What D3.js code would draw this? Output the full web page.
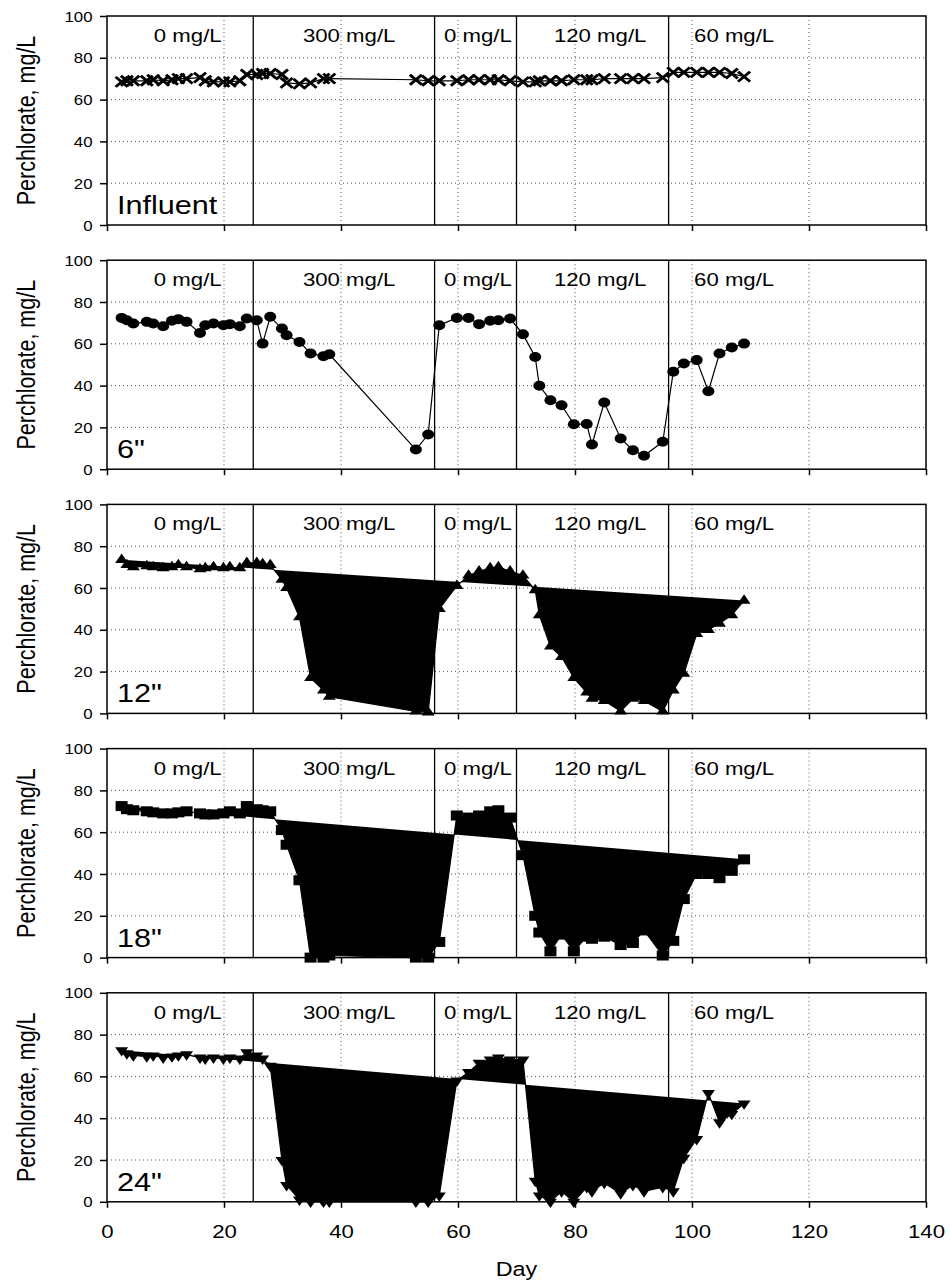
<!DOCTYPE html>
<html><head><meta charset="utf-8">
<script src="https://cdn.jsdelivr.net/npm/d3@7"></script>
<style>body{margin:0;background:#fff} text{font-family:"Liberation Sans",Arial,sans-serif;fill:#000}</style>
</head><body><svg id="c" width="950" height="1286"></svg>
<script>
// ---- data ----
const days = [2.5,3.4,4.5,6.8,7.9,9.6,11.1,12.2,13.6,15.9,16.8,18.2,19.9,21.0,22.7,23.9,25.6,26.6,27.9,29.9,30.7,32.9,34.8,37.0,38.0,52.8,54.9,56.8,59.8,61.8,63.6,65.5,66.9,68.9,71.1,73.2,73.9,75.8,77.7,79.8,82.0,82.9,85.0,87.8,89.9,91.8,95.0,96.8,98.6,100.8,102.8,104.7,106.8,108.9];
const influent = [68.5,69,69,69,69.5,69,69.5,70,70,70.5,69,68.5,68.5,68.5,69,72,72,72.5,72.5,72,68,67.5,68,70,70,69.5,69,69,69,69.5,69.5,69.5,69.5,69,68.5,68.5,69,69,69,69.5,69.5,69.5,70,70,70,70,70.5,73,73,73,73,73,72.5,71];
const depth6 = [72.4,71.3,69.7,70.5,69.7,68.4,71,71.8,70.5,65.2,68.9,69.7,68.9,69.4,68.4,72.1,71.3,60.1,72.9,67.3,64.1,60.9,55.4,54.1,55,9.4,16.6,68.9,72.4,72.4,69.4,71,71.3,72.1,64.6,53.7,39.9,33,30.6,21.5,21.6,11.8,31.9,14.7,9.1,6.4,13.1,46.6,50.6,52.2,37.3,55.4,58.2,60.1];
const depth12 = [73.5,71,70,70.5,70,69.5,70,71,70,69,69.5,70,69.5,70,69.5,72,72,71.5,71,64,60,46,17,11,8,1,0.5,50,61,66,68,69.5,70,68,66,59,47,32,27,17,10,7,6,1,7,6,1,11,19,38,40,43,47,54];
const depth18 = [72.5,71,70.5,70,69.5,69,69,69.5,70,69,68.5,68.5,69,70,69,72.5,71,70.5,70,61,54,37,0,0,1,0,0,7.5,68,67,68,70,70.5,67,49,20,12,3,11,3,10,9,10,6,7,13,1,8,28,40,40,38,41.5,47];
const depth24 = [72.5,71,70,69.5,70,69,69.5,70,70.5,69,68.5,69,68.5,69,68.5,71.5,70,68.5,65,20,8,1,0,0,0,0,0,3,58,62,66.5,68,69,68,68,10,3,0,5,0,7,5,9,4,8,5,7,5,21,30,52,38,42,47];
const panelNames = ["Influent", "6\"", "12\"", "18\"", "24\""];
const markerTypes = ["x", "circle", "triUp", "square", "triDown"];
const filledLine = [false, false, true, true, true];
const phaseDays = [25, 56, 70, 96];
const doseLabels = ["0 mg/L", "300 mg/L", "0 mg/L", "120 mg/L", "60 mg/L"];
const doseLabelDays = [13.8, 41.4, 63.4, 84.3, 107.2];
const xTicks = [0, 20, 40, 60, 80, 100, 120, 140];
const yTicks = [0, 20, 40, 60, 80, 100];
const xGrid = [20, 40, 60, 80, 100, 120];
const yGrid = [20, 40, 60, 80];
const series = [influent, depth6, depth12, depth18, depth24];

// ---- layout ----
const svg = d3.select("#c");
const left = 107, right = 926, panelH = 209, firstTop = 16, step = 244.2;
const SX = 1.2; // horizontal stretch of text in the reference
const x = d3.scaleLinear().domain([0, 140]).range([left, right]);

function stretchedText(g, tx, ty, str, size, anchor, extra) {
  return g.append("text")
    .attr("transform", `translate(${tx},${ty}) scale(${SX},1)` + (extra || ""))
    .attr("text-anchor", anchor)
    .style("font-size", size + "px")
    .text(str);
}

const markerPaths = {
  x: "M-5,-5L5,5M5,-5L-5,5",
  triUp: "M0,-6.3L5.4,3.1L-5.4,3.1Z",
  triDown: "M0,6.3L5.4,-3.1L-5.4,-3.1Z",
  square: "M-5,-5H5V5H-5Z"
};

series.forEach((vals, i) => {
  const top = firstTop + i * step;
  const bottom = top + panelH;
  const y = d3.scaleLinear().domain([0, 100]).range([bottom, top]);
  const g = svg.append("g");

  // grid
  g.selectAll(".hg").data(yGrid).join("line")
    .attr("x1", left).attr("x2", right)
    .attr("y1", d => y(d)).attr("y2", d => y(d))
    .attr("stroke", "#555").attr("stroke-width", 1).attr("stroke-dasharray", "1,3");
  g.selectAll(".vg").data(xGrid).join("line")
    .attr("x1", d => x(d)).attr("x2", d => x(d))
    .attr("y1", top).attr("y2", bottom)
    .attr("stroke", "#555").attr("stroke-width", 1).attr("stroke-dasharray", "1,3");

  // phase lines
  g.selectAll(".ph").data(phaseDays).join("line")
    .attr("x1", d => x(d)).attr("x2", d => x(d))
    .attr("y1", top).attr("y2", bottom)
    .attr("stroke", "#000").attr("stroke-width", 1.3);

  // dose labels
  doseLabels.forEach((lab, k) => {
    stretchedText(g, x(doseLabelDays[k]), top + 26, lab, 18.5, "middle");
  });

  // data line
  const pts = days.map((d, k) => [d, vals[k]]);
  const line = d3.line().x(d => x(d[0])).y(d => y(d[1]));
  g.append("path").datum(pts)
    .attr("d", line)
    .attr("fill", filledLine[i] ? "#000" : "none")
    .attr("stroke", "#000").attr("stroke-width", 1.2);

  // markers
  const mt = markerTypes[i];
  const mg = g.selectAll(".m").data(pts).join("g")
    .attr("transform", d => `translate(${x(d[0])},${y(d[1])}) scale(${SX},1)`);
  if (mt === "circle") {
    mg.append("circle").attr("r", 5).attr("fill", "#000");
  } else if (mt === "x") {
    mg.append("path").attr("d", markerPaths.x).attr("stroke", "#000").attr("stroke-width", 2.6).attr("fill", "none");
  } else {
    mg.append("path").attr("d", markerPaths[mt]).attr("fill", "#000");
  }

  // frame
  g.append("rect").attr("x", left).attr("y", top).attr("width", right - left).attr("height", panelH)
    .attr("fill", "none").attr("stroke", "#000").attr("stroke-width", 1.5);

  // axes
  const ya = g.append("g").attr("transform", `translate(${left},0)`)
    .call(d3.axisLeft(y).tickValues(yTicks).tickSize(7).tickFormat(d3.format("d")));
  ya.select(".domain").remove();
  ya.selectAll("line").attr("stroke-width", 1.5);
  ya.selectAll("text").attr("x", null).attr("dy", null)
    .attr("transform", `translate(-14.5,5) scale(${SX},1)`)
    .attr("text-anchor", "end").style("font-size", "14px").attr("font-family", null);

  const last = i === series.length - 1;
  const xa = g.append("g").attr("transform", `translate(0,${bottom})`)
    .call(d3.axisBottom(x).tickValues(xTicks).tickSize(6).tickFormat(last ? d3.format("d") : () => ""));
  xa.select(".domain").remove();
  xa.selectAll("line").attr("stroke-width", 1.5);
  xa.selectAll("text").attr("y", null).attr("dy", null)
    .attr("transform", `translate(0,36) scale(${SX},1)`)
    .style("font-size", "18.5px").attr("font-family", null);

  // y label
  stretchedText(g, 26, (top + bottom) / 2, "Perchlorate, mg/L", 21.5, "middle", " rotate(-90)")
    .attr("dy", "0.35em");

  // panel name
  stretchedText(g, 117, bottom - 11, panelNames[i], 25.5, "start");
});

stretchedText(svg, (left + right) / 2, 1276, "Day", 19.5, "middle");
</script></body></html>
